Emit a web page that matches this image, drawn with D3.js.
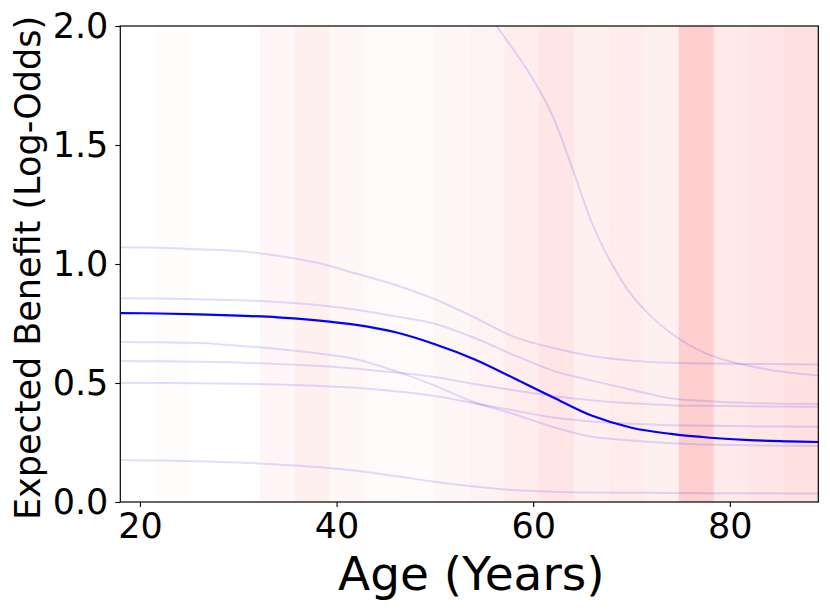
<!doctype html>
<html>
<head>
    <meta charset="UTF-8">
    <title>Expected Benefit by Age</title>
    <script src="https://d3js.org/d3.v7.min.js"></script>
    <style>
        body { margin: 0; background: #fff; }
        text { font-family: "DejaVu Sans", sans-serif; fill: #000; }
    </style>
</head>
<body>
<script>
    var ages = [18, 22, 26, 30, 34, 38, 42, 46, 50, 54, 58, 62, 66, 70, 74, 78, 82, 86, 89];

    // the bold average curve
    var meanBenefit = [0.794, 0.792, 0.788, 0.783, 0.776, 0.763, 0.744, 0.713, 0.663, 0.600, 0.521, 0.440, 0.362, 0.312, 0.286, 0.270, 0.260, 0.255, 0.252];

    // faint individual curves
    var draw1 = [1.070, 1.068, 1.062, 1.055, 1.035, 1.005, 0.960, 0.912, 0.852, 0.776, 0.695, 0.647, 0.613, 0.594, 0.585, 0.582, 0.580, 0.579, 0.578];
    var draw2 = [0.856, 0.855, 0.852, 0.848, 0.840, 0.828, 0.808, 0.780, 0.749, 0.690, 0.618, 0.552, 0.510, 0.472, 0.436, 0.423, 0.416, 0.413, 0.412];
    var draw3 = [0.672, 0.671, 0.668, 0.657, 0.643, 0.625, 0.600, 0.550, 0.489, 0.419, 0.370, 0.315, 0.274, 0.258, 0.247, 0.241, 0.238, 0.236, 0.235];
    var draw4 = [0.592, 0.591, 0.589, 0.586, 0.580, 0.572, 0.560, 0.544, 0.525, 0.496, 0.470, 0.445, 0.427, 0.415, 0.407, 0.404, 0.402, 0.401, 0.400];
    var draw5 = [0.500, 0.500, 0.499, 0.497, 0.494, 0.488, 0.480, 0.465, 0.445, 0.415, 0.385, 0.355, 0.338, 0.329, 0.323, 0.320, 0.318, 0.317, 0.316];
    var draw6 = [0.176, 0.174, 0.171, 0.166, 0.158, 0.147, 0.131, 0.109, 0.085, 0.065, 0.050, 0.043, 0.040, 0.039, 0.038, 0.037, 0.037, 0.036, 0.036];

    // the steep curve was read on a finer set of ages
    var steepAges = [18, 30, 40, 46, 50, 53, 56, 58, 60, 62, 64, 66, 68, 70, 72, 74, 77, 80, 84, 89];
    var steepDraw = [2.60, 2.59, 2.55, 2.45, 2.32, 2.18, 2.015, 1.90, 1.775, 1.62, 1.40, 1.17, 1.00, 0.87, 0.78, 0.71, 0.635, 0.59, 0.556, 0.531];

    var draws = [draw1, draw2, draw3, draw4, draw5, draw6];

    // age bins shaded in red behind the curves
    var binEdges = [18, 21.55, 25.1, 28.65, 32.2, 35.75, 39.3, 42.85, 46.4, 49.95, 53.5, 57.05, 60.6, 64.15, 67.7, 71.25, 74.8, 78.35, 81.9, 85.45, 89];
    var binShade = [0, 0.012, 0, 0, 0.03, 0.06, 0.035, 0.02, 0.015, 0.035, 0.05, 0.07, 0.1, 0.06, 0.08, 0.06, 0.19, 0.085, 0.1, 0.12];

    var xTicks = [20, 40, 60, 80];
    var yTicks = [0, 0.5, 1.0, 1.5, 2.0];

    var w = 830, h = 611;
    var pLeft = 120.3, pRight = 818.3, pTop = 26, pBottom = 502;

    var x = d3.scaleLinear().domain([18, 89]).range([pLeft, pRight]);
    var y = d3.scaleLinear().domain([0, 2]).range([pBottom, pTop]);

    var svg = d3.select("body").append("svg")
        .attr("width", w)
        .attr("height", h);

    svg.append("clipPath").attr("id", "plot")
        .append("rect")
        .attr("x", pLeft).attr("y", pTop)
        .attr("width", pRight - pLeft).attr("height", pBottom - pTop);

    // background bins
    svg.append("g").selectAll("rect")
        .data(binShade)
        .enter().append("rect")
        .attr("x", function(d, i) { return x(binEdges[i]); })
        .attr("y", pTop)
        .attr("width", function(d, i) { return x(binEdges[i + 1]) - x(binEdges[i]); })
        .attr("height", pBottom - pTop)
        .attr("fill", "red")
        .attr("fill-opacity", function(d) { return d; });

    function lineOn(xs) {
        return d3.line()
            .x(function(d, i) { return x(xs[i]); })
            .y(function(d) { return y(d); })
            .curve(d3.curveCatmullRom.alpha(0.5));
    }
    var line = lineOn(ages);

    var lines = svg.append("g").attr("clip-path", "url(#plot)");

    lines.selectAll("path.draw")
        .data(draws)
        .enter().append("path")
        .attr("class", "draw")
        .attr("d", line)
        .attr("fill", "none")
        .attr("stroke", "blue")
        .attr("stroke-opacity", 0.13)
        .attr("stroke-width", 2);

    lines.append("path")
        .attr("d", lineOn(steepAges)(steepDraw))
        .attr("fill", "none")
        .attr("stroke", "blue")
        .attr("stroke-opacity", 0.13)
        .attr("stroke-width", 2);

    lines.append("path")
        .attr("d", line(meanBenefit))
        .attr("fill", "none")
        .attr("stroke", "blue")
        .attr("stroke-width", 2.2);

    // axes
    var xAxis = d3.axisBottom(x).tickValues(xTicks).tickSize(5).tickSizeOuter(0).tickPadding(6)
        .tickFormat(d3.format("d"));
    var gx = svg.append("g").attr("transform", "translate(0," + pBottom + ")").call(xAxis);
    gx.select(".domain").remove();
    gx.selectAll("text").attr("font-size", 35).style("font-family", "DejaVu Sans");
    gx.selectAll("line").attr("stroke", "#000").attr("stroke-width", 1.1);

    var yAxis = d3.axisLeft(y).tickValues(yTicks).tickSize(5).tickSizeOuter(0).tickPadding(7)
        .tickFormat(d3.format(".1f"));
    var gy = svg.append("g").attr("transform", "translate(" + pLeft + ",0)").call(yAxis);
    gy.select(".domain").remove();
    gy.selectAll("text").attr("font-size", 35).style("font-family", "DejaVu Sans");
    gy.selectAll("line").attr("stroke", "#000").attr("stroke-width", 1.1);

    // frame
    svg.append("rect")
        .attr("x", pLeft).attr("y", pTop)
        .attr("width", pRight - pLeft).attr("height", pBottom - pTop)
        .attr("fill", "none")
        .attr("stroke", "#000")
        .attr("stroke-width", 1.2);

    svg.append("text")
        .attr("x", (pLeft + pRight) / 2 + 2)
        .attr("y", 590)
        .attr("text-anchor", "middle")
        .attr("font-size", 47)
        .text("Age (Years)");

    svg.append("text")
        .attr("transform", "translate(40," + ((pTop + pBottom) / 2 + 4) + ") rotate(-90)")
        .attr("text-anchor", "middle")
        .attr("font-size", 35)
        .text("Expected Benefit (Log-Odds)");
</script>
</body>
</html>
